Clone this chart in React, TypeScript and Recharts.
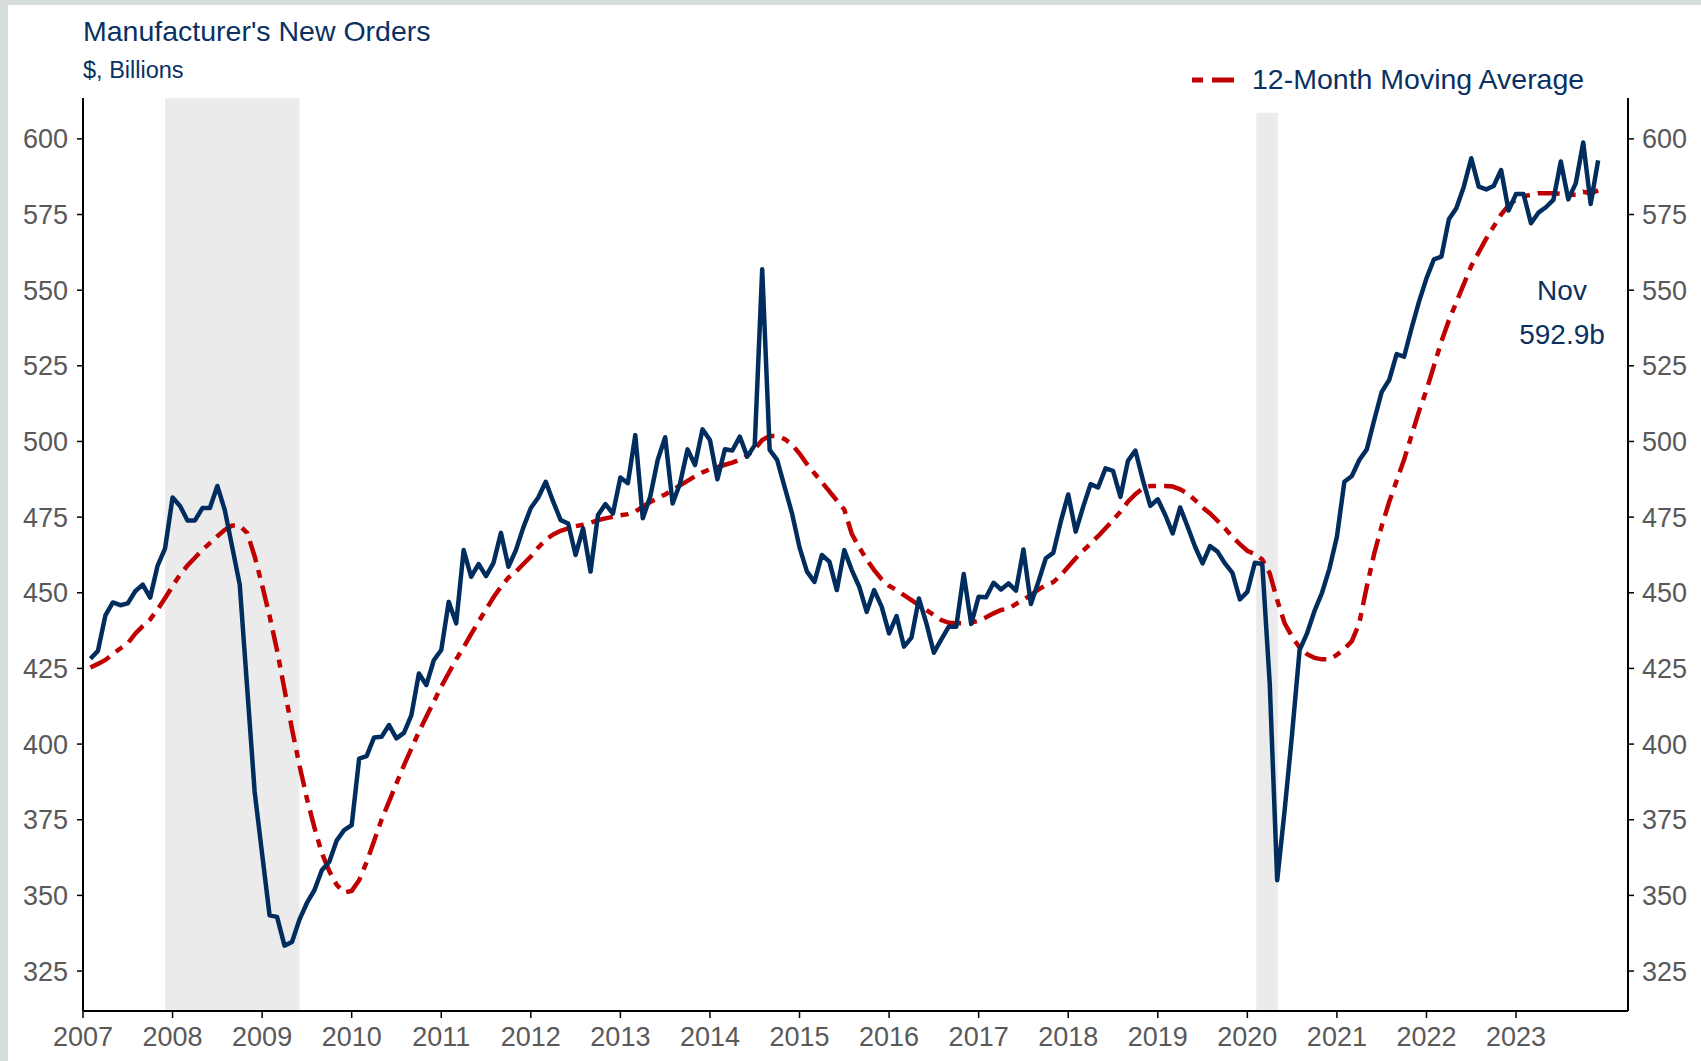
import { LineChart, Line, XAxis, YAxis, ReferenceArea } from 'recharts';

// monthly, Jan 2007 .. Nov 2023 ($ billions)
const START_YEAR = 2007;

const newOrders = [
  428.2, 430.8, 442.5, 446.8, 445.9, 446.5, 450.5, 452.7, 448.4, 459, 464.7, 481.5,
  478.7, 473.9, 473.9, 478, 478, 485.3, 477.3, 465, 452.7, 418.5, 384.2, 363.7,
  343.4, 342.9, 333.4, 334.6, 342, 347.5, 351.7, 358.3, 361.1, 368.2, 371.6, 373.2,
  395.2, 396, 402.2, 402.4, 406.3, 401.9, 403.7, 409.6, 423.3, 419.5, 427.7, 431.1,
  447, 439.9, 464.1, 455.3, 459.5, 455.5, 459.9, 469.8, 458.6, 464.1, 471.6, 478,
  481.5, 486.7, 480.1, 474, 472.9, 462.5, 471.3, 457, 475.7, 479.3, 476.2, 488.1,
  486.2, 502.1, 474.6, 481.8, 493.9, 501.4, 479.5, 486.2, 497.4, 492.2, 504, 500.5,
  487.5, 497.4, 497, 501.6, 495, 498.8, 556.9, 497.2, 493.9, 485, 476.2, 465,
  457, 453.6, 462.5, 460.3, 450.9, 464.1, 457.5, 452, 443.7, 450.9, 445.4, 436.6,
  442.3, 432.2, 435.2, 448.1, 439.9, 430.2, 434.6, 438.8, 438.8, 456.2, 439.7, 448.7,
  448.5, 453.3, 451.1, 453.1, 450.7, 464.3, 446.3, 453.6, 461.4, 463.2, 473.5, 482.5,
  470.2, 478.4, 485.9, 484.8, 491.1, 490.3, 481.7, 493.6, 497, 487.3, 478.7, 480.9,
  475.7, 469.6, 478.2, 471.8, 465.2, 459.7, 465.4, 463.6, 459.7, 456.6, 447.8, 450.3,
  459.9, 459.5, 420, 355, 378.2, 403.5, 431.1, 436.6, 444, 450, 458, 468.5,
  486.7, 488.6, 493.9, 497.4, 507.1, 516.4, 520.3, 528.9, 528, 537.4, 546.2, 553.9,
  560.2, 561.1, 573.4, 577.1, 584.2, 593.6, 584.2, 583.3, 584.4, 589.7, 576.3, 581.8,
  581.8, 572.1, 575.6, 577.4, 579.8, 592.5, 580, 585.3, 598.8, 578.5, 592.9,
];

const movingAvg = [
  425.3, 426.5, 427.8, 429.8, 431.6, 433.3, 436.5, 439, 441.2, 444.5, 448.3, 452.2,
  456, 459, 461.6, 464.2, 466.4, 468.7, 470.8, 472.2, 472.2, 469.8, 462, 452.5,
  442.3, 431, 418, 405, 393, 382, 372.5, 364, 358, 353.5, 351, 351.5,
  355, 361, 368, 375, 381, 387, 393, 398.5, 404, 409, 414, 419,
  423.5, 428, 432, 436.3, 440.5, 444.5, 448.5, 452, 455, 457, 459.5, 462,
  465, 467.5, 469.3, 470.5, 471.3, 472, 472.5, 473.2, 474, 474.6, 475.1, 475.6,
  476, 476.8, 478.5, 480, 481.3, 482.5, 484, 485.5, 487, 488.5, 489.8, 490.8,
  491.5, 492.3, 493, 494, 495.3, 497.5, 500.5, 501.8, 501.8, 500.8, 499, 496,
  492.5, 489.5, 486.5, 483.5, 480.5, 477.5, 469.5, 465, 461, 457.5, 454.5, 452.3,
  450.9, 449.2, 447.6, 445.9, 444.3, 442.6, 441, 440.1, 439.9, 439.9, 440.1, 440.8,
  441.9, 443.2, 444.3, 444.8, 446.3, 447.8, 449.2, 451.1, 452.5, 453.5, 455.8, 458.6,
  461.4, 463.9, 466.3, 468.7, 471.3, 474, 476.8, 480.1, 482.6, 484.5, 485.3, 485.3,
  485.3, 485.1, 484.2, 482.8, 480.6, 478.2, 476.2, 473.8, 471.3, 468.5, 466.1, 463.9,
  462.8, 461, 456.4, 447.6, 439.9, 435.5, 431.9, 429.7, 428.5, 428, 428, 429.5,
  431.5, 434, 440, 452, 463, 472, 480, 487, 494, 502, 510, 517,
  525, 533, 540, 546, 552, 558, 562.5, 567, 571, 575, 578, 580,
  581, 581.5, 582, 582, 582, 581.8, 581.5, 581.5, 582.5, 582, 583,
];

const yearTicks = [2007, 2008, 2009, 2010, 2011, 2012, 2013, 2014, 2015, 2016, 2017, 2018, 2019, 2020, 2021, 2022, 2023];
const valueTicks = [325, 350, 375, 400, 425, 450, 475, 500, 525, 550, 575, 600];

// recessions (decimal years)
const recessions = [
  { from: 2007.917, to: 2009.417, top: 613.5 },
  { from: 2020.1, to: 2020.34, top: 608.6 },
];

const data = newOrders.map((v, i) => ({
  t: START_YEAR + (i + 1) / 12,
  orders: v,
  ma: movingAvg[i],
}));

const NAVY = '#0a3161';
const BLUE = '#002d5e';
const RED = '#c00000';
const FONT = '"Liberation Sans", Arial, sans-serif';
const tickStyle = { fontSize: 27, fill: '#595959', fontFamily: FONT };

export default function App() {
  return (
    <div style={{ position: 'absolute', left: 0, top: 0, width: 1701, height: 1061, background: '#d8dede' }}>
      <div style={{ position: 'absolute', left: 8, top: 5, width: 1693, height: 1056, background: '#fff' }} />
      <div style={{ position: 'absolute', left: 0, top: 0 }}>
        <LineChart width={1701} height={1061} data={data} margin={{ top: 98, right: 0, bottom: 0, left: 0 }}>
          <XAxis
            dataKey="t"
            type="number"
            domain={[2007, 2024.25]}
            ticks={yearTicks}
            allowDataOverflow
            height={50}
            axisLine={{ stroke: '#000', strokeWidth: 2 }}
            tickLine={{ stroke: '#000', strokeWidth: 1.5 }}
            tickSize={7}
            tickMargin={9}
            tick={tickStyle}
            interval={0}
          />
          <YAxis
            yAxisId="left"
            domain={[311.8, 613.5]}
            ticks={valueTicks}
            allowDataOverflow
            width={83}
            axisLine={{ stroke: '#000', strokeWidth: 2 }}
            tickLine={{ stroke: '#000', strokeWidth: 1.5 }}
            tickSize={6}
            tickMargin={9}
            tick={tickStyle}
            interval={0}
          />
          <YAxis
            yAxisId="right"
            orientation="right"
            domain={[311.8, 613.5]}
            ticks={valueTicks}
            allowDataOverflow
            width={73}
            axisLine={{ stroke: '#000', strokeWidth: 2 }}
            tickLine={{ stroke: '#000', strokeWidth: 1.5 }}
            tickSize={6}
            tickMargin={8}
            tick={tickStyle}
            interval={0}
          />
          {recessions.map((r) => (
            <ReferenceArea
              key={r.from}
              yAxisId="left"
              x1={r.from}
              x2={r.to}
              y1={311.8}
              y2={r.top}
              fill="#ebebeb"
              fillOpacity={1}
              stroke="none"
              ifOverflow="hidden"
            />
          ))}
          <Line
            yAxisId="right"
            type="linear"
            dataKey="ma"
            stroke={RED}
            strokeWidth={4.5}
            strokeDasharray="22 8 8 8"
            dot={false}
            isAnimationActive={false}
          />
          <Line
            yAxisId="left"
            type="linear"
            dataKey="orders"
            stroke={BLUE}
            strokeWidth={4.5}
            strokeLinejoin="round"
            dot={false}
            isAnimationActive={false}
          />
        </LineChart>
      </div>

      <div style={{ position: 'absolute', left: 83, top: 15, fontFamily: FONT, fontSize: 28.5, color: NAVY, whiteSpace: 'nowrap' }}>
        Manufacturer's New Orders
      </div>
      <div style={{ position: 'absolute', left: 83, top: 57, fontFamily: FONT, fontSize: 23.5, color: NAVY, whiteSpace: 'nowrap' }}>
        $, Billions
      </div>

      <div style={{ position: 'absolute', left: 1190, top: 63, display: 'flex', alignItems: 'center', fontFamily: FONT, fontSize: 28.5, color: NAVY, whiteSpace: 'nowrap' }}>
        <svg width={46} height={10} style={{ marginRight: 16 }}>
          <line x1={2} y1={5} x2={13} y2={5} stroke={RED} strokeWidth={5} />
          <line x1={22} y1={5} x2={44} y2={5} stroke={RED} strokeWidth={5} />
        </svg>
        12-Month Moving Average
      </div>

      <div style={{ position: 'absolute', left: 1502, top: 269, width: 120, textAlign: 'center', fontFamily: FONT, fontSize: 28, lineHeight: '44px', color: NAVY }}>
        <div>Nov</div>
        <div>592.9b</div>
      </div>
    </div>
  );
}
